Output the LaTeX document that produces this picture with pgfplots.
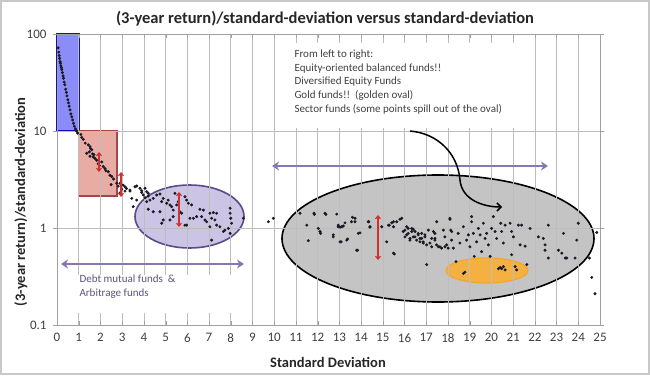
\documentclass[border=0pt]{standalone}
\usepackage{pgfplots}
\pgfplotsset{compat=1.18}
\usepackage{fontspec}
\setmainfont{Carlito}
\usetikzlibrary{arrows.meta}
\definecolor{framec}{HTML}{C8C8C8}
\definecolor{gridc}{HTML}{BDBDBD}
\definecolor{axisc}{HTML}{A0A0A0}
\definecolor{tickc}{HTML}{404040}
\definecolor{bluefill}{HTML}{8C8CF8}
\definecolor{blueline}{HTML}{1010B8}
\definecolor{redfill}{HTML}{E8ACA4}
\definecolor{redline}{HTML}{A04848}
\definecolor{purfill}{HTML}{CCC4E4}
\definecolor{purline}{HTML}{5A4A8A}
\definecolor{greyfill}{HTML}{C4C4C4}
\definecolor{orfill}{HTML}{F5B042}
\definecolor{orline}{HTML}{F2A630}
\definecolor{purarrow}{HTML}{8878B0}
\definecolor{redarrow}{HTML}{D03030}
\definecolor{pointc}{HTML}{1A1A24}
\definecolor{debtc}{HTML}{5E5478}
\pgfplotstableread{
x y
0.05 72
0.08 65
0.10 60
0.12 56
0.14 52
0.16 50
0.18 47
0.20 45
0.22 43
0.25 40
0.28 37
0.30 35
0.33 32
0.36 30
0.40 27
0.43 25
0.46 23
0.50 21
0.53 19.5
0.56 18
0.60 16.5
0.64 15
0.68 14
0.72 13
0.76 12
0.80 11.2
0.85 10.5
0.90 10
0.95 9.5
1.14 8.6
1.21 8.2
1.10 9.2
1.30 7.5
1.44 7.2
1.52 6.9
1.60 6.4
1.49 6.1
1.37 5.9
1.64 5.8
1.67 5.4
1.75 5.2
1.52 5.5
1.55 6.6
1.70 5.7
1.83 5.0
1.90 4.6
1.95 4.4
2.06 4.8
2.13 4.3
2.21 4.1
2.25 3.9
2.36 3.8
2.44 3.5
2.52 3.4
2.60 3.2
2.49 2.8
2.75 2.9
2.82 2.7
2.98 2.5
3.13 2.4
2.90 2.3
2.90 2.89
3.05 2.77
3.13 2.66
3.36 2.46
3.67 2.71
3.82 2.57
3.90 2.42
4.05 2.57
4.13 2.37
3.44 2.02
3.51 1.66
3.97 2.19
4.20 2.14
4.28 1.94
4.13 1.87
4.43 2.02
4.59 2.19
4.74 2.24
4.89 2.02
4.82 1.87
5.05 1.80
5.12 1.94
5.20 1.73
5.28 1.66
5.35 1.53
4.20 1.56
4.43 1.47
4.74 1.47
4.82 1.12
4.89 1.21
5.20 1.21
5.35 1.31
5.51 1.73
5.58 1.87
5.66 1.47
5.74 1.42
5.89 2.10
5.97 1.94
6.05 1.80
6.20 1.73
5.89 1.07
5.97 1.07
6.12 1.26
6.28 1.26
6.43 1.31
6.58 1.56
6.74 1.53
6.66 1.31
6.81 1.21
6.89 1.16
7.04 1.42
7.20 1.44
7.35 1.42
7.12 1.26
7.27 1.21
7.04 1.03
7.12 0.75
7.35 1.07
7.50 1.03
7.66 0.92
7.73 0.95
7.89 0.99
7.97 1.60
7.97 1.42
8.00 1.26
8.04 1.12
7.97 0.88
8.58 1.26
5.43 2.28
3.20 2.55
3.36 2.40
3.59 2.66
3.90 2.32
4.05 2.05
4.20 2.28
3.67 1.94
9.73 1.16
9.96 1.26
11.19 1.42
11.50 1.07
11.57 0.74
11.85 1.38
11.83 1.42
12.03 0.99
12.11 0.92
12.14 0.88
12.34 1.42
12.38 1.38
12.72 0.81
12.72 0.85
12.88 1.39
12.95 1.07
12.95 1.03
13.03 1.02
13.03 0.72
13.11 1.03
13.18 1.05
13.08 0.72
13.26 1.13
13.34 0.75
13.38 0.77
13.56 1.16
13.60 1.29
13.72 1.16
13.72 1.26
13.80 0.59
13.87 0.88
13.84 0.59
13.95 0.89
14.33 1.16
14.36 1.16
14.41 1.02
14.41 1.03
14.95 1.03
15.18 0.72
15.26 1.07
15.30 1.07
15.41 1.13
15.49 1.03
15.49 1.16
15.49 0.55
15.53 0.54
15.64 1.16
15.79 1.23
15.87 1.26
15.94 0.92
16.02 0.81
16.02 0.95
16.10 1.03
16.10 0.85
16.17 0.88
16.17 0.99
16.25 0.75
16.25 0.78
16.33 0.99
16.33 0.92
16.40 0.81
16.40 0.97
16.48 0.92
16.48 0.81
16.56 0.75
16.63 0.85
16.63 0.88
16.71 0.78
16.71 0.72
16.79 0.88
16.79 0.78
16.86 0.72
16.86 0.70
16.94 0.81
16.94 0.85
17.02 0.42
17.02 0.67
17.10 0.95
17.17 0.70
17.25 0.78
17.25 0.64
17.33 0.92
17.40 0.88
17.40 0.75
17.40 0.78
17.48 0.67
17.48 1.16
17.56 0.64
17.63 0.64
17.71 0.62
17.79 0.95
17.86 0.81
17.86 0.64
17.94 0.67
18.01 0.62
18.09 1.23
18.09 1.26
18.13 0.95
18.17 0.75
18.17 0.92
18.25 0.62
18.37 0.45
18.47 0.88
18.55 0.70
18.71 1.03
18.71 0.34
18.78 0.35
18.86 0.75
18.94 0.85
19.01 0.64
19.09 1.16
19.09 1.31
19.17 0.88
19.21 0.51
19.32 0.72
19.40 0.99
19.48 0.85
19.55 0.57
19.63 1.12
19.71 0.78
19.78 0.88
19.86 0.67
19.94 0.51
20.01 0.99
20.09 1.31
20.17 0.92
20.24 0.78
20.32 0.38
20.40 0.39
20.47 0.38
20.55 0.40
20.63 0.37
20.43 1.12
20.47 0.92
20.55 0.70
20.63 1.07
20.86 1.12
20.93 0.92
20.93 0.53
21.01 0.81
21.09 0.40
21.16 0.37
21.24 1.07
21.32 0.67
21.39 1.07
21.55 0.65
21.63 0.42
21.78 0.99
22.16 0.81
22.39 0.78
22.47 0.67
22.47 0.59
22.62 1.07
22.62 0.49
23.09 0.59
23.24 0.55
23.32 0.88
23.40 0.49
23.47 0.49
23.85 0.49
23.93 0.75
24.00 1.12
24.51 0.49
24.62 0.31
24.77 0.21
24.85 0.90
}\funds
\begin{document}
\begin{tikzpicture}
\useasboundingbox (-57pt,-50pt) rectangle (593pt,325pt);
\fill[white] (-57pt,-50pt) rectangle (593pt,325pt);
\draw[framec, line width=1.5pt] (-56pt,-49pt) rectangle (592pt,324pt);
\begin{scope}[x=1pt,y=1pt]
  % background shapes
  \filldraw[fill=bluefill, draw=blueline, line width=1.6pt] (0,194) rectangle (21.72,291);
  \filldraw[fill=redfill, draw=redline, line width=1.2pt] (21.72,129) rectangle (60,194);
  \filldraw[fill=purfill, draw=purline, line width=1.6pt] (132.5,108.5) ellipse [x radius=54.5, y radius=31.5];
  \filldraw[fill=greyfill, draw=black, line width=1.6pt] (381,86.5) ellipse [x radius=156, y radius=63.5];
  \filldraw[fill=orfill, draw=orline, line width=1.2pt] (430,54.5) ellipse [x radius=41, y radius=12.5];
\end{scope}
\begin{axis}[
  at={(0,0)}, anchor=south west,
  scale only axis, width=543pt, height=291pt,
  xmin=0, xmax=25, ymin=0.1, ymax=100, ymode=log,
  xtick={0,1,...,25}, ytick={0.1,1,10,100}, yticklabels={0.1,1,10,100},
  yminorticks=false,
  grid=major, major grid style={draw=gridc, line width=0.6pt},
  axis line style={draw=axisc, line width=1pt},
  xtick style={draw=axisc},
  ytick style={draw=axisc},
  xtick align=inside, ytick align=outside, major tick length=4pt,
  ticklabel style={font=\fontsize{13}{15}\selectfont, text=tickc},
  /pgf/number format/assume math mode=true,
  xticklabel style={yshift=-5pt},
  yticklabel style={xshift=-3pt},
  clip=false,
]
\addplot[only marks, mark=*, mark size=1.3pt, color=pointc] table {\funds};
\end{axis}
\begin{scope}[x=1pt,y=1pt]
  % white text boxes
  \fill[white] (226,197) rectangle (478,282);
  \fill[white] (15,50) rectangle (185,12);
  \node[anchor=west, align=left, text=tickc, font=\fontsize{11}{13.7}\selectfont] at (234,243)
   {From left to right:\\Equity-oriented balanced funds!!\\Diversified Equity Funds\\Gold funds!!\ \ (golden oval)\\Sector funds (some points spill out of the oval)};
  \node[anchor=west, align=left, text=debtc, font=\fontsize{11}{14}\selectfont] at (19,38)
   {Debt mutual funds\ \ \&\\Arbitrage funds};
  % purple arrows
  \draw[purarrow, line width=2.6pt, {Stealth[length=7pt,width=9pt]}-{Stealth[length=7pt,width=9pt]}] (215,159) -- (491,159);
  \draw[purarrow, line width=2.6pt, {Stealth[length=7pt,width=9pt]}-{Stealth[length=7pt,width=9pt]}] (4,61) -- (187,61);
  % red arrows
  \draw[redarrow, line width=1.1pt, {Straight Barb[length=3pt,width=5pt]}-{Straight Barb[length=3pt,width=5pt]}] (42,173) -- (42,153);
  \draw[redarrow, line width=1.1pt, {Straight Barb[length=3pt,width=5pt]}-{Straight Barb[length=3pt,width=5pt]}] (64,153) -- (64,128);
  \draw[redarrow, line width=1.1pt, {Straight Barb[length=3pt,width=5pt]}-{Straight Barb[length=3pt,width=5pt]}] (122,133) -- (122,98);
  \draw[redarrow, line width=1.1pt, {Straight Barb[length=3pt,width=5pt]}-{Straight Barb[length=3pt,width=5pt]}] (321,110) -- (321,65);
  % black curved arrow
  \draw[black, line width=1.5pt, -{Straight Barb[length=4pt,width=8pt]}] (353,194) to[out=-5,in=95] (403,145) to[out=-85,in=180] (445,118);
  % title and axis labels
  \node[font=\bfseries\fontsize{16.5}{19}\selectfont, text=black!85] at (268,306) {(3-year return)/standard-deviation versus standard-deviation};
  \node[font=\bfseries\fontsize{14.5}{16}\selectfont, text=black!85] at (271,-37) {Standard Deviation};
  \node[font=\bfseries\fontsize{14.5}{16}\selectfont, text=black!85, rotate=90] at (-36,123) {(3-year return)/standard-deviation};
\end{scope}
\end{tikzpicture}
\end{document}
